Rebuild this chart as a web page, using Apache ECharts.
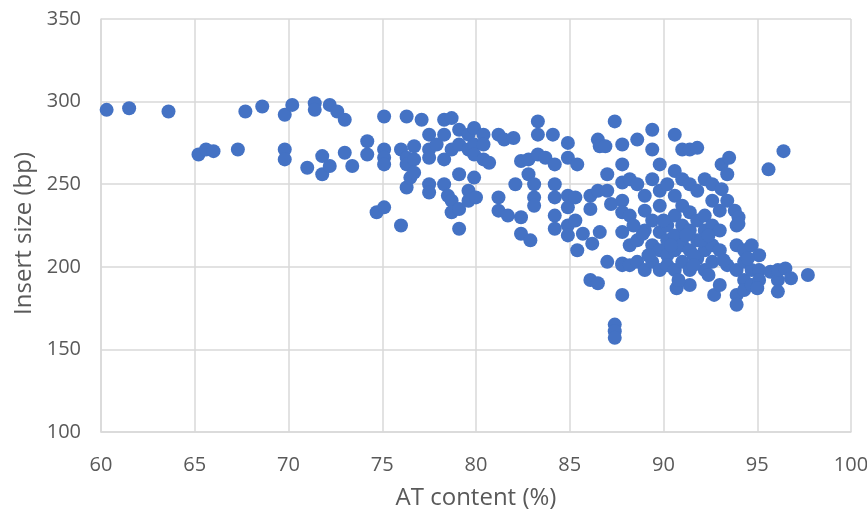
<!DOCTYPE html>
<html><head><meta charset="utf-8">
<script src="https://cdn.jsdelivr.net/npm/echarts@6/dist/echarts.min.js"></script>
<style>html,body{margin:0;padding:0;background:#fff}#c{width:867px;height:511px}</style>
</head><body><div id="c"></div>
<script>
const xTicks = [60,65,70,75,80,85,90,95,100];
const yTicks = [100,150,200,250,300,350];
const atContent = [
60.3,61.5,63.6,65.2,65.6,66.0,67.3,67.7,68.6,69.8,70.2,69.8,69.8,71.0,71.4,71.4,72.2,71.8,71.8,72.2,72.6,73.0,73.0,73.4,74.2,74.2,74.7,75.1,75.1,75.1,75.1,75.1,
76.0,76.3,76.0,76.3,76.3,76.3,76.5,76.7,76.7,76.7,77.1,77.5,77.5,77.5,77.5,77.5,77.9,78.3,78.3,78.3,78.3,78.5,78.7,78.7,78.7,78.7,79.1,79.1,79.1,79.1,79.1,
79.6,79.6,79.6,79.6,79.9,79.9,79.9,79.9,80.4,80.4,80.4,80.0,80.7,81.2,81.2,81.2,81.5,81.7,82.0,82.1,82.4,82.4,82.4,82.8,82.8,82.9,83.1,83.1,83.1,83.3,83.3,83.3,
83.7,84.1,84.2,84.2,84.2,84.2,84.2,84.9,84.9,84.9,84.9,84.9,84.9,85.3,85.3,85.4,85.4,86.1,86.5,86.1,86.1,86.2,86.6,86.5,86.5,86.6,86.9,87.0,87.0,87.0,
87.4,87.4,87.4,87.4,87.8,87.8,87.8,87.8,87.8,87.8,87.8,87.8,87.8,88.2,88.2,88.2,88.2,88.6,88.6,88.6,88.6,89.0,89.0,89.0,89.0,
89.4,89.4,89.4,89.4,89.4,89.4,89.8,89.8,89.8,89.8,89.8,89.8,90.2,90.2,90.2,90.2,90.2,90.6,90.6,90.6,90.6,90.6,90.6,90.6,90.7,
91.0,91.0,91.0,91.0,91.0,91.0,91.4,91.4,91.4,91.4,91.4,91.4,91.4,91.8,91.8,91.8,91.8,91.8,92.2,92.2,92.2,92.2,92.2,
92.6,92.6,92.6,92.6,92.6,92.7,93.0,93.0,93.0,93.0,93.1,93.5,93.4,93.4,93.4,93.8,93.9,93.9,93.9,93.9,93.9,
94.3,94.3,94.3,94.3,94.7,94.7,94.7,95.1,95.1,95.1,95.6,95.7,96.1,96.1,96.1,96.4,96.5,96.8,97.7,
94.0,94.0,93.1,88.9,89.2,90.0,90.4,91.2,91.6,92.0,92.4,90.8,91.6,92.4,93.2,94.5,95.0,85.7,87.2,88.4
];
const insertSize = [
295,296,294,268,271,270,271,294,297,292,298,271,265,260,299,295,298,267,256,261,294,289,269,261,276,268,233,236,291,271,266,262,
225,291,271,266,262,248,254,273,265,257,289,280,271,266,250,245,274,289,280,265,250,243,290,271,240,233,235,223,256,283,274,
280,271,246,240,284,274,268,254,280,274,265,242,263,280,242,234,277,231,278,250,264,230,220,265,256,216,250,242,237,288,280,268,
266,280,262,250,231,223,242,275,266,243,236,225,219,242,228,210,262,192,190,243,235,214,221,246,277,273,273,256,246,203,
288,165,161,157,183,274,262,251,240,233,221,202,201,253,231,213,201,277,250,216,203,243,234,198,222,
283,271,253,228,213,203,262,246,237,221,210,198,250,225,216,207,201,280,258,243,231,219,210,198,187,
271,253,237,225,213,203,271,250,233,222,210,198,189,272,246,228,216,205,253,231,222,210,198,
250,240,225,213,203,183,234,222,210,189,262,266,256,240,201,234,225,213,198,183,177,
210,203,192,186,213,198,189,207,198,192,259,197,192,185,198,270,199,193,195,
230,226,247,220,207,228,213,219,207,216,219,192,201,195,204,205,187,220,238,225
];
const data = atContent.map((x,i)=>[x, insertSize[i]]);
const font = "'Open Sans','Liberation Sans',Arial,sans-serif";
const chart = echarts.init(document.getElementById('c'));
chart.setOption({
  animation:false,
  grid:{left:101,right:16,top:19,bottom:79,containLabel:false,outerBoundsMode:'none'},
  xAxis:{type:'value',min:60,max:100,interval:5,
    name:'AT content (%)',nameLocation:'middle',nameGap:54,
    nameTextStyle:{fontFamily:font,fontSize:24,color:'#595959'},
    axisLine:{show:true,lineStyle:{color:'#d9d9d9',width:1.5}},
    axisTick:{show:false},
    axisLabel:{fontFamily:font,fontSize:20,color:'#595959',margin:23},
    splitLine:{show:true,lineStyle:{color:'#d9d9d9',width:1.5}}},
  yAxis:{type:'value',min:100,max:350,interval:50,
    name:'Insert size (bp)',nameLocation:'middle',nameGap:64,
    nameTextStyle:{fontFamily:font,fontSize:24,color:'#595959',padding:[0,16,0,0]},
    axisLine:{show:true,lineStyle:{color:'#d9d9d9',width:1.5}},
    axisTick:{show:false},
    axisLabel:{fontFamily:font,fontSize:20,color:'#595959',margin:20,padding:[7,0,0,0]},
    splitLine:{show:true,lineStyle:{color:'#d9d9d9',width:1.5}}},
  series:[{type:'scatter',data:data,symbolSize:14,itemStyle:{color:'#4472C4',opacity:1}}]
});
</script></body></html>
